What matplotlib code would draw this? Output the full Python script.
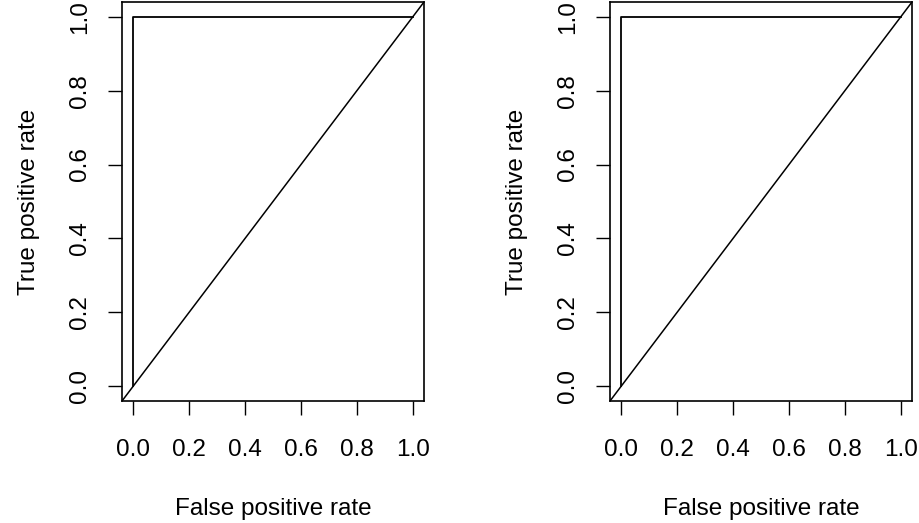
import matplotlib
matplotlib.use("Agg")
import matplotlib.pyplot as plt
import numpy as np

plt.rcParams['font.family'] = ['Liberation Sans', 'DejaVu Sans']

# ROC curves (same for both panels)
fpr = [0.0, 0.0, 1.0]
tpr = [0.0, 1.0, 1.0]
ticks = [0.0, 0.2, 0.4, 0.6, 0.8, 1.0]
tick_labels = ['0.0', '0.2', '0.4', '0.6', '0.8', '1.0']

fig = plt.figure(figsize=(9.19, 5.23), dpi=100)
W, H = 919, 523
panels = [122, 610]

for left in panels:
    ax = fig.add_axes([left / W, (H - 401) / H, 302 / W, 399 / H])
    ax.plot(fpr, tpr, color='black', lw=1.3)
    ax.plot([-1, 2], [-1, 2], color='black', lw=1.1)
    ax.set_xlim(-0.04, 1.04)
    ax.set_ylim(-0.04, 1.04)
    ax.set_xticks(ticks)
    ax.set_xticklabels(tick_labels)
    ax.set_yticks(ticks)
    ax.set_yticklabels(tick_labels, rotation=90, va='center')
    ax.tick_params(direction='out', length=10, width=1, labelsize=17.5)
    ax.tick_params(axis='x', pad=17)
    ax.tick_params(axis='y', pad=12)
    for s in ax.spines.values():
        s.set_linewidth(1.2)
    ax.set_xlabel('False positive rate', fontsize=17.5, labelpad=27)
    ax.set_ylabel('True positive rate', fontsize=17.5, labelpad=21)

fig.savefig('out.png', dpi=100)
